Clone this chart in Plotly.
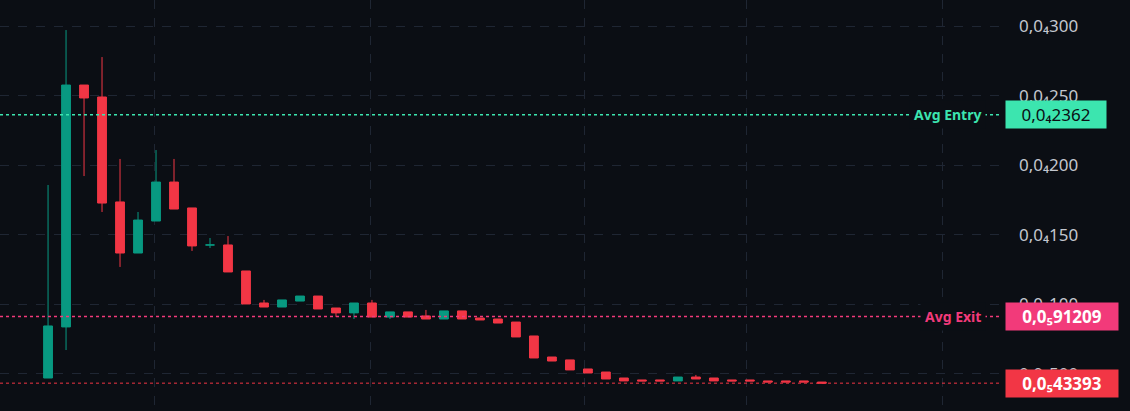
import plotly.graph_objects as go

# prices in units of 1e-6
opens = [4.71, 8.38, 25.76, 24.90, 17.36, 13.69, 15.99, 18.79, 16.93, 14.27,
         14.27, 12.40, 10.10, 9.81, 10.24, 10.60, 9.74, 9.39, 10.10, 9.09,
         9.46, 9.17, 8.95, 9.53, 9.02, 8.95, 8.73, 7.73, 6.22, 6.01,
         5.36, 5.14, 4.71, 4.57, 4.57, 4.50, 4.78, 4.71, 4.57, 4.57,
         4.50, 4.50, 4.50, 4.42]
closes = [8.45, 25.76, 24.83, 17.28, 13.69, 16.06, 18.79, 16.85, 14.20, 14.27,
          12.33, 10.03, 9.81, 10.32, 10.60, 9.67, 9.39, 10.10, 9.09, 9.46,
          9.09, 8.95, 9.53, 8.95, 8.88, 8.66, 7.66, 6.15, 5.93, 5.29,
          5.07, 4.64, 4.50, 4.50, 4.50, 4.78, 4.64, 4.50, 4.50, 4.50,
          4.42, 4.42, 4.42, 4.34]
highs = [18.58, 29.71, 25.76, 27.77, 20.45, 16.64, 21.09, 20.45, 16.93, 14.77,
         14.91, 12.40, 10.32, 10.32, 10.60, 10.60, 9.74, 10.10, 10.32, 9.46,
         9.46, 9.60, 9.53, 9.53, 9.02, 8.95, 8.73, 7.73, 6.22, 6.01,
         5.36, 5.14, 4.71, 4.57, 4.57, 4.78, 4.93, 4.71, 4.57, 4.57,
         4.50, 4.50, 4.50, 4.42]
lows = [4.71, 6.72, 19.22, 16.64, 12.69, 13.69, 15.99, 16.85, 13.84, 14.05,
        12.33, 10.03, 9.81, 9.81, 10.24, 9.67, 9.10, 8.95, 9.09, 8.95,
        9.09, 8.95, 8.95, 8.95, 8.88, 8.66, 7.66, 6.15, 5.93, 5.29,
        5.07, 4.64, 4.50, 4.50, 4.50, 4.50, 4.64, 4.50, 4.50, 4.50,
        4.42, 4.42, 4.42, 4.34]
bars = list(range(len(opens)))

tick_vals = [5, 10, 15, 20, 25, 30]
tick_text = ["0,0₅500", "0,0₄100", "0,0₄150", "0,0₄200", "0,0₄250", "0,0₄300"]

avg_entry = 23.62
avg_exit = 9.1209
last_price = 4.3393

UP = "#089981"
DOWN = "#f23645"
BG = "#0b0e14"

fig = go.Figure(go.Candlestick(
    x=bars, open=opens, high=highs, low=lows, close=closes,
    increasing=dict(line=dict(color=UP, width=1), fillcolor=UP),
    decreasing=dict(line=dict(color=DOWN, width=1), fillcolor=DOWN),
    whiskerwidth=0, showlegend=False, hoverinfo="skip"))

# price lines
for val, col in [(avg_entry, "#3ce5af"), (avg_exit, "#f23a7a"), (last_price, "#f23645")]:
    fig.add_hline(y=val, line=dict(color=col, width=1.5 if val != last_price else 1, dash="dot"))

# right side labels
fig.add_annotation(x=1, y=avg_entry, xref="paper", yref="y", xanchor="left", xshift=5,
                   text="0,0₄2362", showarrow=False, bgcolor="#3ce5af",
                   font=dict(color="#0b0e14", size=17, family="Noto Sans"),
                   borderpad=2, width=96)
fig.add_annotation(x=1, y=avg_exit, xref="paper", yref="y", xanchor="left", xshift=5,
                   text="<b>0,0₅91209</b>", showarrow=False, bgcolor="#f23a7a",
                   font=dict(color="white", size=17, family="Noto Sans"),
                   borderpad=2, width=108)
fig.add_annotation(x=1, y=last_price, xref="paper", yref="y", xanchor="left", xshift=5,
                   text="<b>0,0₅43393</b>", showarrow=False, bgcolor="#f23645",
                   font=dict(color="white", size=17, family="Noto Sans"),
                   borderpad=2, width=108)
fig.add_annotation(x=1, y=avg_entry, xref="paper", yref="y", xanchor="right", xshift=-14,
                   text="<b>Avg Entry</b>", showarrow=False, bgcolor=BG,
                   font=dict(color="#3ce5af", size=14, family="Noto Sans"), borderpad=4)
fig.add_annotation(x=1, y=avg_exit, xref="paper", yref="y", xanchor="right", xshift=-14,
                   text="<b>Avg Exit</b>", showarrow=False, bgcolor=BG,
                   font=dict(color="#f23a7a", size=14, family="Noto Sans"), borderpad=4)

fig.update_layout(
    width=1130, height=411,
    margin=dict(l=0, r=130, t=0, b=0, autoexpand=False),
    paper_bgcolor=BG, plot_bgcolor=BG,
    xaxis=dict(range=[-2.67, 52.9], rangeslider=dict(visible=False),
               tickvals=[5.94, 17.9, 29.8, 38.8, 49.7], showticklabels=False,
               showgrid=True, gridcolor="#1f2633", griddash="dash", zeroline=False),
    yaxis=dict(range=[2.34, 31.87], side="right", tickvals=tick_vals, ticktext=tick_text,
               showgrid=True, gridcolor="#1f2633", griddash="dash", zeroline=False,
               ticklabelstandoff=18,
               tickfont=dict(color="#c3c6ce", size=17, family="Noto Sans")),
)

fig.write_html("out.html", config={"displayModeBar": False},
               post_script="document.body.style.margin='0';document.body.style.background='#0b0e14';")
